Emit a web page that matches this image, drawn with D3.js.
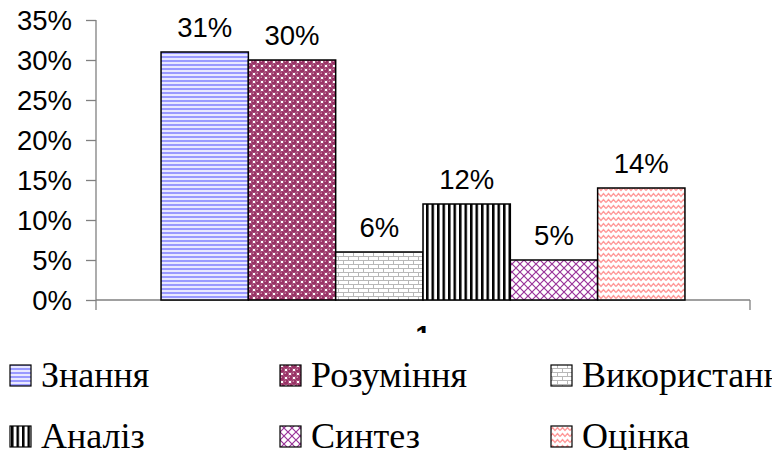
<!DOCTYPE html>
<html><head><meta charset="utf-8">
<script src="https://cdn.jsdelivr.net/npm/d3@7/dist/d3.min.js"></script>
<style>body{margin:0;background:#fff}svg{display:block}</style>
</head><body>
<svg id="c" width="772" height="450"></svg>
<script>
const categories = ["1"];
const seriesNames = ["Знання", "Розуміння", "Використання", "Аналіз", "Синтез", "Оцінка"];
const seriesValues = [0.31, 0.30, 0.06, 0.12, 0.05, 0.14];
const yTicks = [0, 0.05, 0.10, 0.15, 0.20, 0.25, 0.30, 0.35];
const patternIds = ["pZn", "pRo", "pVy", "pAn", "pSy", "pOc"];

const svg = d3.select("#c");
const defs = svg.append("defs");

// Знання - horizontal blue stripes
{
  const p = defs.append("pattern").attr("id","pZn").attr("patternUnits","userSpaceOnUse").attr("width",8).attr("height",4);
  p.append("rect").attr("width",8).attr("height",4).attr("fill","#e8e8ff");
  p.append("rect").attr("y",0).attr("width",8).attr("height",2).attr("fill","#9999ff");
}
// Розуміння - maroon spheres
{
  const p = defs.append("pattern").attr("id","pRo").attr("patternUnits","userSpaceOnUse").attr("width",8).attr("height",8);
  p.append("rect").attr("width",8).attr("height",8).attr("fill","#ffffff");
  [[2,2],[6,6],[10,2],[-2,6],[2,10],[6,-2]].forEach(([cx,cy])=>{
    p.append("circle").attr("cx",cx).attr("cy",cy).attr("r",2.9).attr("fill","#993366");
  });
  p.append("circle").attr("cx",1.3).attr("cy",1.3).attr("r",0.8).attr("fill","#d99ab5");
  p.append("circle").attr("cx",5.3).attr("cy",5.3).attr("r",0.8).attr("fill","#d99ab5");
}
// Використання - bricks
{
  const p = defs.append("pattern").attr("id","pVy").attr("patternUnits","userSpaceOnUse").attr("width",10).attr("height",8);
  p.append("rect").attr("width",10).attr("height",8).attr("fill","#ffffff");
  p.append("path").attr("d","M0,0.5H10M0,4.5H10M2.5,0.5V4.5M7.5,4.5V8").attr("stroke","#b8b8b8").attr("stroke-width",1).attr("fill","none");
}
// Аналіз - vertical black stripes
{
  const p = defs.append("pattern").attr("id","pAn").attr("patternUnits","userSpaceOnUse").attr("width",5.5).attr("height",4);
  p.append("rect").attr("width",5.5).attr("height",4).attr("fill","#ffffff");
  p.append("rect").attr("x",0).attr("width",2.5).attr("height",4).attr("fill","#000000");
}
// Синтез - purple diagonal crosshatch
{
  const p = defs.append("pattern").attr("id","pSy").attr("patternUnits","userSpaceOnUse").attr("width",8).attr("height",8);
  p.append("rect").attr("width",8).attr("height",8).attr("fill","#ffffff");
  p.append("path").attr("d","M0,0L8,8M8,0L0,8").attr("stroke","#993399").attr("stroke-width",1.2).attr("fill","none");
}
// Оцінка - pink waves
{
  const p = defs.append("pattern").attr("id","pOc").attr("patternUnits","userSpaceOnUse").attr("width",10).attr("height",6);
  p.append("rect").attr("width",10).attr("height",6).attr("fill","#ffffff");
  p.append("path").attr("d","M0,4.5L2.5,1.5L5,4.5L7.5,1.5L10,4.5").attr("stroke","#ff9999").attr("stroke-width",1.4).attr("fill","none");
}

const y = d3.scaleLinear().domain([0, 0.35]).range([300, 20]);
const x0 = d3.scaleBand().domain(categories).range([96, 750]).paddingInner(0).paddingOuter(0);
const x1 = d3.scaleBand().domain(seriesNames).range([0, x0.bandwidth()]).paddingInner(0).paddingOuter(0.745);

const fmt = d3.format(".0%");
const sans = '"Liberation Sans"';
const serif = '"Liberation Serif"';

// y axis
const yAxis = svg.append("g").attr("transform","translate(96,0)")
  .call(d3.axisLeft(y).tickValues(yTicks).tickSize(10).tickPadding(14).tickFormat(fmt));
yAxis.attr("font-family", null).attr("font-size", null);
yAxis.select(".domain").remove();
yAxis.selectAll(".tick line").attr("stroke","#808080").attr("stroke-width",1.3);
yAxis.selectAll(".tick text").style("font-family",sans).style("font-size","27.5px").attr("fill","#000").attr("dy","0.35em");

// axis lines
svg.append("line").attr("x1",96).attr("x2",96).attr("y1",y(0.35)).attr("y2",310).attr("stroke","#808080").attr("stroke-width",1.3);
svg.append("line").attr("x1",96).attr("x2",750).attr("y1",y(0)).attr("y2",y(0)).attr("stroke","#808080").attr("stroke-width",1.3);
categories.forEach(c=>{
  const xe = x0(c) + x0.bandwidth();
  svg.append("line").attr("x1",xe).attr("x2",xe).attr("y1",y(0)).attr("y2",310).attr("stroke","#808080").attr("stroke-width",1.3);
});

// category label
svg.selectAll("text.cat").data(categories).join("text").attr("class","cat")
  .attr("x", d=>x0(d)+x0.bandwidth()/2).attr("y", 345)
  .attr("text-anchor","middle").style("font-family",sans).style("font-size","27px").style("font-weight","bold").text(d=>d);

// bars
const g = svg.append("g").attr("transform",`translate(${x0(categories[0])},0)`);
g.selectAll("rect").data(seriesNames).join("rect")
  .attr("x", d=>x1(d)).attr("width", x1.bandwidth())
  .attr("y", (d,i)=>y(seriesValues[i])).attr("height", (d,i)=>y(0)-y(seriesValues[i]))
  .attr("fill", (d,i)=>`url(#${patternIds[i]})`)
  .attr("stroke","#000").attr("stroke-width",1.5);
g.selectAll("text").data(seriesNames).join("text")
  .attr("x", d=>x1(d)+x1.bandwidth()/2).attr("y", (d,i)=>y(seriesValues[i]) - 15)
  .attr("text-anchor","middle").style("font-family",sans).style("font-size","27.5px").attr("fill","#000")
  .text((d,i)=>fmt(seriesValues[i]));

// legend
const leg = svg.append("g");
leg.append("rect").attr("x",0).attr("y",333).attr("width",772).attr("height",117).attr("fill","#fff");
const colX = [10, 280, 551];
const rowY = [375, 436];
seriesNames.forEach((name,i)=>{
  const cx = colX[i%3], cy = rowY[Math.floor(i/3)];
  leg.append("rect").attr("x",cx).attr("y",cy-10).attr("width",21).attr("height",21)
    .attr("fill",`url(#${patternIds[i]})`).attr("stroke","#000").attr("stroke-width",1.2);
  leg.append("text").attr("x",cx+31).attr("y",cy+12).style("font-family",serif)
    .style("font-size","36px").attr("fill","#000").text(name);
});
</script>
</body></html>
